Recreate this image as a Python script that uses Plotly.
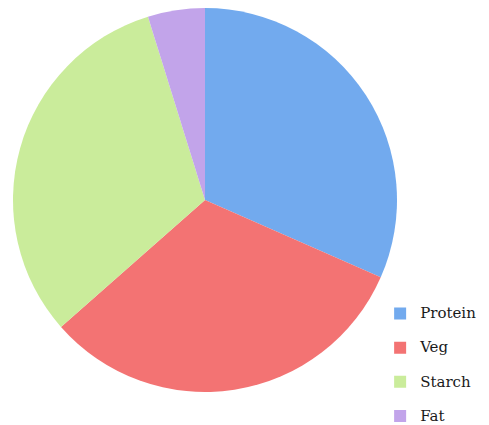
import plotly.graph_objects as go

categories = ["Protein", "Veg", "Starch", "Fat"]
values = [31.6, 31.9, 31.7, 4.8]
colors = ["#72aaee", "#f37373", "#caec9b", "#c2a4ea"]

legend_labels = ["<span style='font-family:\"DejaVu Serif\", serif; font-size:15px'>" + c + "</span><br> "
                 for c in categories]

fig = go.Figure(go.Pie(
    labels=legend_labels,
    values=values,
    sort=False,
    direction="clockwise",
    rotation=0,
    marker=dict(colors=colors, line=dict(width=0)),
    textinfo="none",
    hoverinfo="percent",
    domain=dict(x=[5/489, 389/489], y=[1-384/425, 1.0]),
))

fig.update_layout(
    width=489, height=425,
    margin=dict(l=0, r=0, t=0, b=0, autoexpand=False),
    paper_bgcolor="white",
    showlegend=True,
    legend=dict(
        x=0.761, y=0.315, xanchor="left", yanchor="top",
        font=dict(family="DejaVu Serif", size=12, color="#1a1a1a"),
        itemwidth=30,
        valign="top",
        bgcolor="rgba(0,0,0,0)",
    ),
)

fig.write_html("out.html")
